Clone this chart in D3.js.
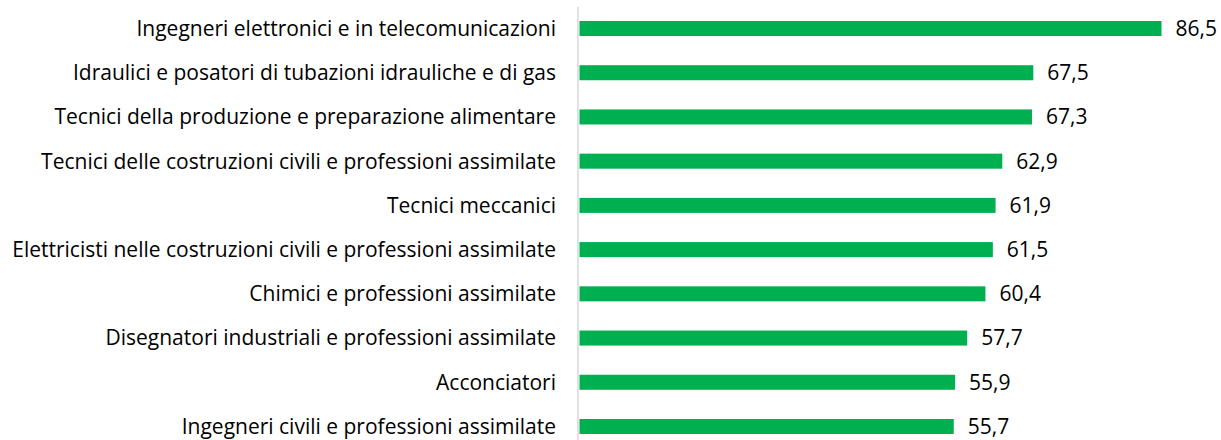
<!DOCTYPE html>
<html>
<head>
<meta charset="utf-8">
<script src="https://cdn.jsdelivr.net/npm/d3@7"></script>
<style>
  html, body { margin: 0; padding: 0; background: #fff; }
  svg text { font-family: "Open Sans", Lato, sans-serif; fill: #000; }
</style>
</head>
<body>
<svg id="chart" width="1221" height="440"></svg>
<script>
// Professions and their values (percent)
const categories = [
  "Ingegneri elettronici e in telecomunicazioni",
  "Idraulici e posatori di tubazioni idrauliche e di gas",
  "Tecnici della produzione e preparazione alimentare",
  "Tecnici delle costruzioni civili e professioni assimilate",
  "Tecnici meccanici",
  "Elettricisti nelle costruzioni civili e professioni assimilate",
  "Chimici e professioni assimilate",
  "Disegnatori industriali e professioni assimilate",
  "Acconciatori",
  "Ingegneri civili e professioni assimilate"
];
const values = [86.5, 67.5, 67.3, 62.9, 61.9, 61.5, 60.4, 57.7, 55.9, 55.7];

const svg = d3.select("#chart");
const x0 = 578;
const fmt = v => v.toFixed(1).replace(".", ",");

const x = d3.scaleLinear().domain([0, 86.5]).range([x0, 1161.5]);
const y = d3.scaleBand().domain(categories).range([6.4, 448.6]).paddingInner(0.66).paddingOuter(0.33);

// vertical category axis line
svg.append("line")
  .attr("x1", x0).attr("x2", x0)
  .attr("y1", 7).attr("y2", 440)
  .attr("stroke", "#d9d9d9").attr("stroke-width", 1.5);

// bars
svg.selectAll("rect.bar")
  .data(values)
  .join("rect")
  .attr("class", "bar")
  .attr("x", x0 + 1.5)
  .attr("y", (d, i) => y(categories[i]))
  .attr("width", d => x(d) - x0 - 1.5)
  .attr("height", y.bandwidth())
  .attr("fill", "#00b050");

// category labels
const cat = svg.selectAll("text.cat")
  .data(categories)
  .join("text")
  .attr("class", "cat")
  .attr("x", 556)
  .attr("y", d => y(d) + y.bandwidth() / 2)
  .attr("dy", "0.35em")
  .attr("text-anchor", "end")
  .attr("font-size", 18)
  .text(d => d);

// size the label font so the longest label spans the available width
const longest = d3.max(cat.nodes(), n => n.getComputedTextLength());
const fs = 18 * 544 / longest;
cat.attr("font-size", fs);

// value labels
svg.selectAll("text.val")
  .data(values)
  .join("text")
  .attr("class", "val")
  .attr("x", d => x(d) + 14)
  .attr("y", (d, i) => y(categories[i]) + y.bandwidth() / 2)
  .attr("dy", "0.35em")
  .attr("font-size", fs)
  .text(d => fmt(d));
</script>
</body>
</html>
